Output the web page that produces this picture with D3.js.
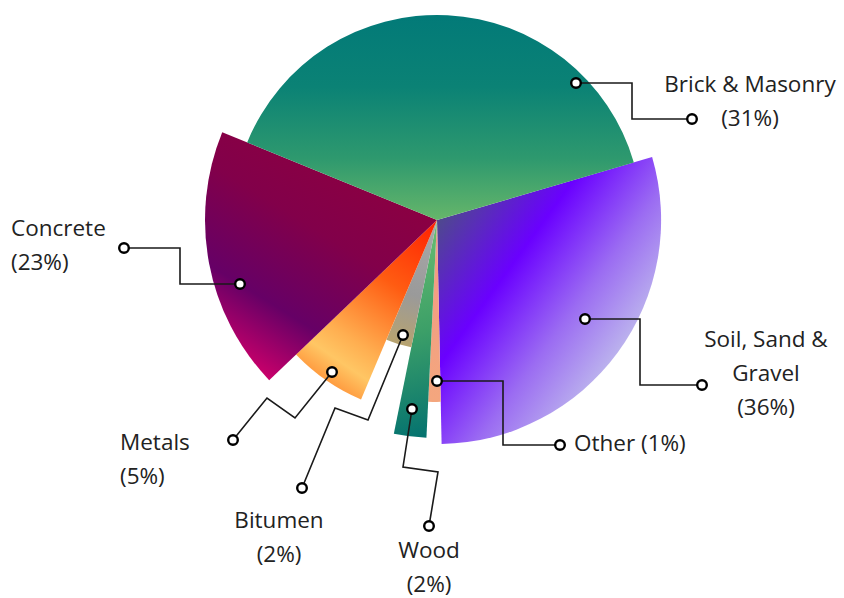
<!DOCTYPE html>
<html>
<head>
<meta charset="utf-8">
<script src="https://cdn.jsdelivr.net/npm/d3@7"></script>
<style>
  html, body { margin: 0; padding: 0; background: #fff; }
  svg { display: block; }
  .lbl { font-family: "Open Sans", sans-serif; font-size: 22.5px; fill: #222; }
</style>
</head>
<body>
<svg id="chart"></svg>
<script>
// slices, clockwise starting at the top edge of Soil, Sand & Gravel
const categories = ["Soil, Sand & Gravel", "Other", "Wood", "Bitumen", "Metals", "Concrete", "Brick & Masonry"];
const percentLabels = [36, 1, 2, 2, 5, 23, 31];
// angular share of each slice
const angleShares = [29.2, 1.1, 2.4, 3.2, 6.5, 18.3, 39.3];
// relative slice length (outer radius)
const radiusValues = [0.966, 0.784, 0.94, 0.56, 0.84, 1.0, 0.884];

const width = 844, height = 598;
const cx = 437, cy = 220;
const maxR = 232;

const svg = d3.select("#chart").attr("width", width).attr("height", height);
const defs = svg.append("defs");

const g = svg.append("g").attr("transform", `translate(${cx}, ${cy})`);

const rScale = d3.scaleLinear().domain([0, 1]).range([0, maxR]);

const start = 73.7 * Math.PI / 180;
const pie = d3.pie().sort(null).value(d => d.share)
  .startAngle(start).endAngle(start + 2 * Math.PI);

const data = categories.map((c, i) => ({ name: c, pct: percentLabels[i], share: angleShares[i], rv: radiusValues[i] }));

const arc = d3.arc().innerRadius(0).outerRadius(d => rScale(d.data.rv));

// gradients (userSpace coords relative to the centre)
function linGrad(id, x1, y1, x2, y2, stops) {
  const lg = defs.append("linearGradient").attr("id", id)
    .attr("gradientUnits", "userSpaceOnUse")
    .attr("x1", x1).attr("y1", y1).attr("x2", x2).attr("y2", y2);
  stops.forEach(s => lg.append("stop").attr("offset", s[0]).attr("stop-color", s[1]));
}
linGrad("g0", 0, 0, 220, 160, [[0, "#4e4a8c"], [0.32, "#6a00ff"], [0.6, "#9b6cf2"], [1, "#d4e8ea"]]);
linGrad("g1", 0, 0, 0, 180, [[0, "#f19a86"], [1, "#f4a67e"]]);
linGrad("g2", -30, 0, 20, 218, [[0, "#6cc070"], [0.5, "#3c9f68"], [1, "#006f70"]]);
linGrad("g3", 0, 0, -38, 125, [[0, "#a9a9a9"], [0.6, "#9a9a9a"], [1, "#b8a36e"]]);
linGrad("g4", 0, 0, -110, 161, [[0, "#ff2000"], [0.4, "#ff5c12"], [0.75, "#ffae50"], [0.88, "#ffc664"], [1, "#ff9c40"]]);
linGrad("g5", -60, -40, -190, 170, [[0, "#8b0042"], [0.3, "#82004a"], [0.65, "#660066"], [1, "#e8006c"]]);
linGrad("g6", 0, -205, 0, 0, [[0, "#027a78"], [0.35, "#0b8275"], [0.7, "#2e996e"], [1, "#66b66a"]]);

g.selectAll("path.slice").data(pie(data)).join("path")
  .attr("class", "slice")
  .attr("d", arc)
  .attr("fill", (d, i) => `url(#g${i})`);

// leader lines (pixel layout of the annotations)
const leaders = [
  { pts: [[585, 319], [640, 319], [640, 385], [702, 385]],
    text: ["Soil, Sand &", "Gravel"], x: 766, y: 347, anchor: "middle" },
  { pts: [[437, 381], [503, 381], [503, 445], [560, 445]],
    text: [], x: 574, y: 451, anchor: "start", inline: true },
  { pts: [[412, 409], [403, 467], [438, 472], [429, 526]],
    text: ["Wood"], x: 429, y: 558, anchor: "middle" },
  { pts: [[403, 335], [368, 420], [335, 408], [302, 488]],
    text: ["Bitumen"], x: 279, y: 528, anchor: "middle" },
  { pts: [[332, 372], [295, 418], [267, 398], [233, 440]],
    text: ["Metals"], x: 120, y: 450, anchor: "start" },
  { pts: [[240, 284], [180, 284], [180, 248], [124, 248]],
    text: ["Concrete"], x: 11, y: 236, anchor: "start" },
  { pts: [[576, 83], [632, 83], [632, 119], [692, 119]],
    text: ["Brick & Masonry"], x: 750, y: 92, anchor: "middle" }
];

const ann = svg.append("g");
const lineH = 34;

leaders.forEach((l, i) => {
  ann.append("path")
    .attr("d", d3.line()(l.pts))
    .attr("fill", "none").attr("stroke", "#1a1a1a").attr("stroke-width", 1.6);
  [l.pts[0], l.pts[l.pts.length - 1]].forEach(p => {
    ann.append("circle").attr("cx", p[0]).attr("cy", p[1]).attr("r", 4.8)
      .attr("fill", "#fff").attr("stroke", "#000").attr("stroke-width", 2.4);
  });
  const t = ann.append("text").attr("class", "lbl").attr("text-anchor", l.anchor);
  if (l.inline) {
    t.append("tspan").attr("x", l.x).attr("y", l.y).text(`${data[i].name} (${data[i].pct}%)`);
  } else {
    l.text.forEach((s, k) => t.append("tspan").attr("x", l.x).attr("y", l.y + k * lineH).text(s));
    t.append("tspan").attr("x", l.x).attr("y", l.y + l.text.length * lineH).text(`(${data[i].pct}%)`);
  }
});
</script>
</body>
</html>
